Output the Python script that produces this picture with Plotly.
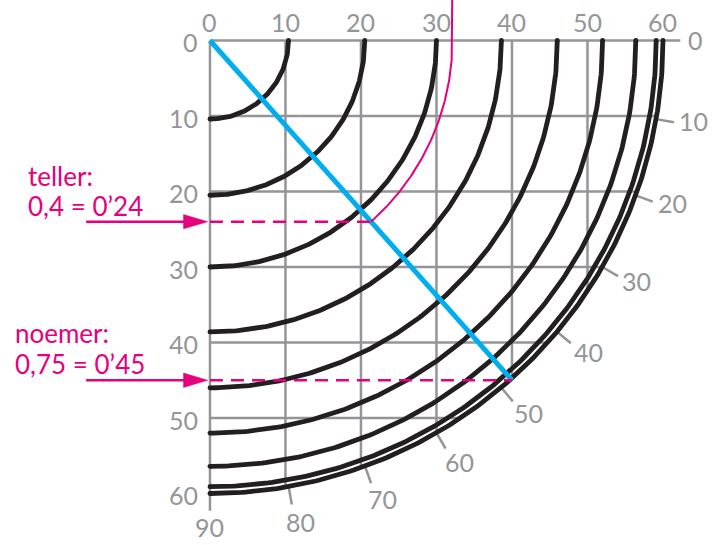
import numpy as np
import plotly.graph_objects as go

# ---------------- data ----------------
grid_values = [0, 10, 20, 30, 40, 50, 60]                 # grid / axis tick values
grid_labels = ["0", "10", "20", "30", "40", "50", "60"]
arc_radii = [10.4, 20.5, 30, 38.6, 46, 52, 56.4, 59.1, 60]  # concentric black arcs
angle_values = [0, 10, 20, 30, 40, 50, 60, 70, 80, 90]      # degree labels on outer arc
angle_labels = ["0", "10", "20", "30", "40", "50", "60", "70", "80", "90"]
blue_end = (40, 45)          # end of the blue line on the outer arc
teller_y = 24                # 0,4 = 0'24
noemer_y = 45                # 0,75 = 0'45
teller_text = ["teller:", "0,4 = 0\u201924"]
noemer_text = ["noemer:", "0,75 = 0\u201945"]

# ---------------- style ----------------
GRAY = "#939598"
BLACK = "#231f20"
PINK = "#e6007e"
BLUE = "#00aeef"
FONT = "Lato"
FS = 25
FS_PINK = 26
R = max(arc_radii)

fig = go.Figure()

# grid lines (clipped by outer circle)
gx, gy = [], []
for v in grid_values:
    ext = R + 2.3 if v == 0 else float(np.sqrt(max(R**2 - v**2, 0)))
    if ext <= 0:
        continue
    gx += [0, ext, None]; gy += [v, v, None]
    gx += [v, v, None]; gy += [0, ext, None]
for a in angle_values[1:-1]:
    t = np.radians(a)
    gx += [R * np.cos(t), (R + 2.4) * np.cos(t), None]
    gy += [R * np.sin(t), (R + 2.4) * np.sin(t), None]
fig.add_trace(go.Scatter(x=gx, y=gy, mode="lines",
                         line=dict(color=GRAY, width=2.5), hoverinfo="skip"))

# black arcs
th = np.radians(np.linspace(0, 90, 181))
for r in arc_radii:
    fig.add_trace(go.Scatter(x=r * np.cos(th), y=r * np.sin(th), mode="lines",
                             line=dict(color=BLACK, width=4.8), hoverinfo="skip"))
ex = [r for r in arc_radii] + [0 for r in arc_radii]
ey = [0 for r in arc_radii] + [r for r in arc_radii]
fig.add_trace(go.Scatter(x=ex, y=ey, mode="markers",
                         marker=dict(color=BLACK, size=4.8), hoverinfo="skip"))

# blue line
fig.add_trace(go.Scatter(x=[0, blue_end[0]], y=[0, blue_end[1]], mode="lines",
                         line=dict(color=BLUE, width=5), hoverinfo="skip"))

# pink dashed lines
slope = blue_end[1] / blue_end[0]
teller_x = teller_y / slope
fig.add_trace(go.Scatter(x=[0, teller_x], y=[teller_y, teller_y], mode="lines",
                         line=dict(color=PINK, width=2.5, dash="13px,8px"), hoverinfo="skip"))
fig.add_trace(go.Scatter(x=[0, blue_end[0]], y=[noemer_y, noemer_y], mode="lines",
                         line=dict(color=PINK, width=2.5, dash="13px,8px"), hoverinfo="skip"))

# pink arc (plumb line)
pr = float(np.hypot(teller_x, teller_y))
pend = np.arctan2(teller_y, teller_x)
pth = np.linspace(0, pend, 120)
px = [pr, pr] + list(pr * np.cos(pth))
py = [-8, 0] + list(pr * np.sin(pth))
fig.add_trace(go.Scatter(x=px, y=py, mode="lines",
                         line=dict(color=PINK, width=2), hoverinfo="skip"))

# pink arrows
head_len, head_half, tail_x = 3.2, 0.95, -16.4
for yv in [teller_y, noemer_y]:
    fig.add_trace(go.Scatter(x=[tail_x, -0.3 - head_len + 0.5], y=[yv, yv], mode="lines",
                             line=dict(color=PINK, width=2.5), hoverinfo="skip"))
    fig.add_trace(go.Scatter(x=[-0.3, -0.3 - head_len, -0.3 - head_len, -0.3],
                             y=[yv, yv - head_half, yv + head_half, yv],
                             mode="lines", fill="toself", fillcolor=PINK,
                             line=dict(color=PINK, width=0.5), hoverinfo="skip"))

# labels
ann = []
for v, s in zip(grid_values, grid_labels):
    ann.append(dict(x=v, y=-2.4, text=s, xanchor="center", yanchor="middle"))
    ann.append(dict(x=-1.5, y=v + 0.25, text=s, xanchor="right", yanchor="middle"))
for a, s in zip(angle_values, angle_labels):
    if a == 0:
        rr, ta = 64.3, 0.0
    elif a == 90:
        rr, ta = 64.5, 90.0
    else:
        rr, ta = 64.9, a - 0.6
    t = np.radians(ta)
    ann.append(dict(x=rr * np.cos(t), y=rr * np.sin(t), text=s,
                    xanchor="center", yanchor="middle"))
for a in ann:
    a.update(showarrow=False, xref="x", yref="y", borderpad=0,
             font=dict(family=FONT, size=FS, color=GRAY))

pink_ann = [
    dict(x=-24.2, y=17.9, text=teller_text[0]),
    dict(x=-24.2, y=21.95, text=teller_text[1]),
    dict(x=-26.0, y=38.7, text=noemer_text[0]),
    dict(x=-26.0, y=42.8, text=noemer_text[1]),
]
for a in pink_ann:
    a.update(showarrow=False, xref="x", yref="y", xanchor="left", yanchor="middle",
             borderpad=0, font=dict(family=FONT, size=FS_PINK, color=PINK))

fig.update_layout(
    width=715, height=545,
    margin=dict(l=0, r=0, t=0, b=0),
    paper_bgcolor="white", plot_bgcolor="white",
    showlegend=False,
    xaxis=dict(range=[-27.81, 66.89], visible=False, fixedrange=True),
    yaxis=dict(range=[66.82, -5.36], visible=False, fixedrange=True),
    annotations=ann + pink_ann,
)

fig.write_html(
    "out.html",
    config={"displayModeBar": False, "staticPlot": True},
    post_script="document.body.style.margin='0';document.body.style.padding='0';"
                "document.body.style.overflow='hidden';",
)
